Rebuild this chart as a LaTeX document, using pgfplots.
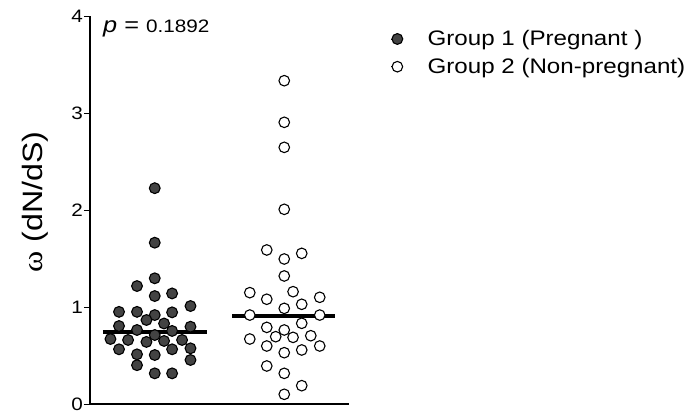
\documentclass[border=0pt]{standalone}
\usepackage{pgfplots}
\pgfplotsset{compat=1.18}
\usepackage{fontspec}
\setmainfont{Liberation Sans}[FakeStretch=1.15]
\newfontfamily\greekfont{Liberation Serif}[FakeStretch=1.15]
\definecolor{darkfill}{HTML}{434343}

% omega values, x = group index plus a small horizontal spread
\pgfplotstableread{
x y
1.000 2.225
1.000 1.663
1.000 1.296
0.863 1.216
1.000 1.113
1.134 1.140
1.276 1.010
0.724 0.950
0.863 0.950
1.000 0.917
1.134 0.945
0.936 0.866
1.072 0.830
0.724 0.804
0.863 0.763
1.276 0.797
1.134 0.753
0.658 0.670
0.794 0.660
0.936 0.640
1.000 0.711
1.072 0.650
1.211 0.660
0.724 0.564
0.863 0.512
1.000 0.505
1.134 0.564
1.276 0.574
0.863 0.400
1.276 0.454
1.000 0.316
1.134 0.316
}\groupone

\pgfplotstableread{
x y
2.000 3.333
2.000 2.904
2.000 2.646
2.000 2.007
1.865 1.588
2.000 1.495
2.135 1.553
2.000 1.320
1.734 1.148
1.865 1.080
2.068 1.158
2.274 1.100
2.135 1.028
2.000 0.986
1.734 0.917
2.274 0.917
2.135 0.832
1.865 0.790
2.000 0.763
1.934 0.694
2.068 0.687
2.205 0.704
1.734 0.670
1.865 0.598
2.000 0.529
2.135 0.557
2.274 0.598
1.865 0.392
2.000 0.316
2.135 0.189
2.000 0.100
}\grouptwo

\begin{document}
\begin{tikzpicture}
\path[use as bounding box] (0,0) rectangle (692pt,418pt);
\begin{axis}[
  at={(90pt,14pt)}, anchor=south west,
  scale only axis, width=259pt, height=388pt,
  xmin=0.5, xmax=2.5, ymin=0, ymax=4,
  axis lines=left,
  axis line style={line width=1.6pt, -},
  xtick=\empty,
  ytick={0,1,2,3,4},
  yticklabels={0,1,2,3,4},
  tick align=outside, major tick length=6pt,
  ytick style={line width=1pt, black},
  yticklabel style={font=\fontsize{18}{21}\selectfont, inner sep=1pt},
  ylabel={{\greekfont ω} (dN/dS)},
  ylabel style={at={(axis description cs:-0.212,0.521)}, anchor=center,
    font=\fontsize{28}{32}\selectfont},
  clip=false,
  legend image code/.code={%
    \path (-6pt,0pt) -- (6pt,0pt);
    \draw[#1] plot coordinates {(0pt,0pt)};},
  legend style={draw=none, fill=none, inner sep=0pt,
    at={(axis description cs:1.162,0.968)}, anchor=north west,
    font=\fontsize{21}{25}\selectfont, row sep=7pt,
    /tikz/every odd column/.append style={column sep=22pt}},
  legend cell align=left,
]
\addplot[only marks, mark=*, mark size=5.4pt,
  mark options={fill=darkfill, draw=black, line width=1.1pt}]
  table[x=x, y=y] {\groupone};
\addlegendentry{Group 1 (Pregnant )}
\addplot[only marks, mark=*, mark size=5.3pt,
  mark options={fill=white, draw=black, line width=1.1pt}]
  table[x=x, y=y] {\grouptwo};
\addlegendentry{Group 2 (Non-pregnant)}
% group medians
\addplot[forget plot, line width=4pt, black] coordinates {(0.600,0.739) (1.403,0.739)};
\addplot[forget plot, line width=4pt, black] coordinates {(1.597,0.907) (2.392,0.907)};
\node[anchor=base west, inner sep=0pt] at (axis cs:0.6,3.825)
  {\fontsize{22}{25}\selectfont\itshape p\upshape{} = \fontsize{18}{21}\selectfont 0.1892};
\end{axis}
\end{tikzpicture}
\end{document}
